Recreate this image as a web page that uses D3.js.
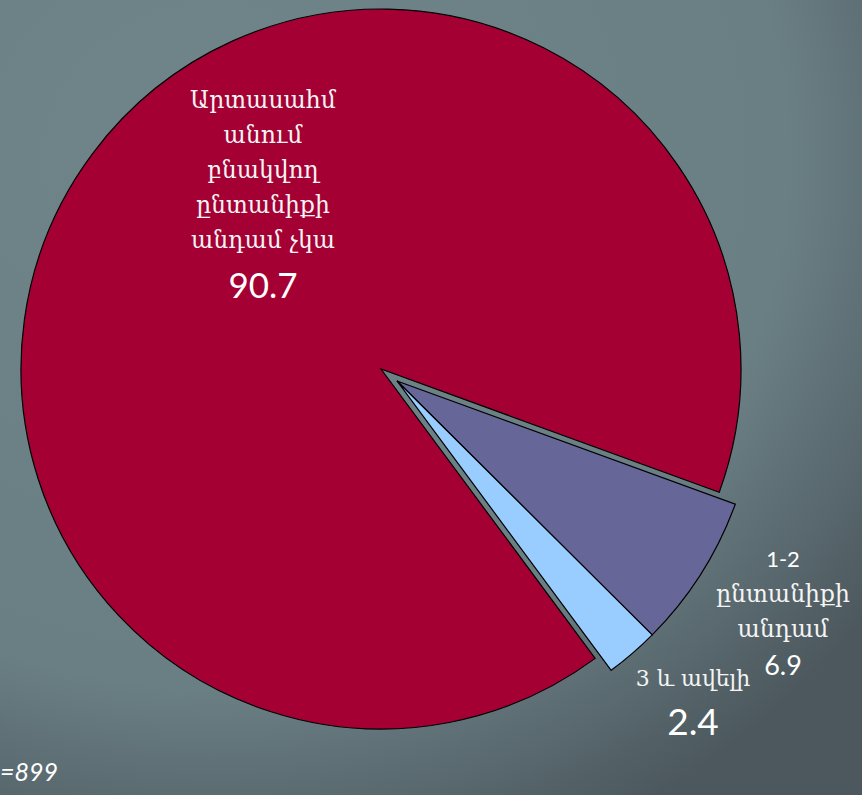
<!DOCTYPE html>
<html>
<head>
<meta charset="utf-8">
<script src="https://cdn.jsdelivr.net/npm/d3@7"></script>
<style>
  html, body { margin: 0; padding: 0; overflow: hidden; }
  .arm { font-family: "DejaVu Serif", serif; fill: #f4f4f4; }
  .num { font-family: Lato, "Open Sans", sans-serif; fill: #ffffff; }
</style>
</head>
<body>
<svg id="chart"></svg>
<script>
const width = 862;
const height = 795;

// slices, clockwise starting after the exploded pair
const categories = ["none", "one-two", "three-plus"];
const values = [90.7, 6.9, 2.4];
const colors = ["#a50034", "#666699", "#99ccff"];
const exploded = [false, true, true];

// label text
const labelLines = [
  ["Արտասահմ", "անում", "բնակվող", "ընտանիքի", "անդամ չկա"],
  ["1-2", "ընտանիքի", "անդամ"],
  ["3 և ավելի"]
];
const sampleNote = "=899";

const cx = 381, cy = 369, radius = 360;
const explodeBy = 20;

const svg = d3.select('#chart')
  .attr('width', width)
  .attr('height', height);

const defs = svg.append('defs');
const grad = defs.append('radialGradient')
  .attr('id', 'bg')
  .attr('cx', '25%').attr('cy', '20%').attr('r', '95%');
grad.append('stop').attr('offset', '0%').attr('stop-color', '#6f858a');
grad.append('stop').attr('offset', '70%').attr('stop-color', '#6a7f84');
grad.append('stop').attr('offset', '100%').attr('stop-color', '#4c585e');

svg.append('rect')
  .attr('width', width)
  .attr('height', height)
  .attr('fill', 'url(#bg)');

const startDeg = 143.5;
const pie = d3.pie()
  .sort(null)
  .value(d => d)
  .startAngle(startDeg * Math.PI / 180)
  .endAngle(startDeg * Math.PI / 180 + 2 * Math.PI);

const arcs = pie(values);

const arc = d3.arc()
  .innerRadius(0)
  .outerRadius(radius);

// exploded pair moves out along its combined mid angle
const pairStart = arcs[1].startAngle;
const pairEnd = arcs[2].endAngle;
const pairMid = (pairStart + pairEnd) / 2;
const dx = Math.sin(pairMid) * explodeBy;
const dy = -Math.cos(pairMid) * explodeBy;

const g = svg.append('g')
  .attr('transform', `translate(${cx}, ${cy})`);

g.selectAll('path')
  .data(arcs)
  .enter().append('path')
  .attr('class', (d, i) => 'slice ' + categories[i])
  .attr('transform', (d, i) => exploded[i] ? `translate(${dx}, ${dy})` : null)
  .attr('d', arc)
  .attr('fill', (d, i) => colors[i])
  .attr('stroke', '#000')
  .attr('stroke-width', 1.2)
  .attr('stroke-linejoin', 'miter');

// main label
const main = svg.append('g').attr('transform', 'translate(263, 0)');
main.selectAll('text.arm')
  .data(labelLines[0])
  .enter().append('text')
  .attr('class', 'arm')
  .attr('text-anchor', 'middle')
  .attr('x', 0)
  .attr('y', (d, i) => 108 + i * 35)
  .attr('font-size', 23.5)
  .text(d => d);
main.append('text')
  .attr('class', 'num')
  .attr('text-anchor', 'middle')
  .attr('y', 298)
  .attr('font-size', 35)
  .text(d3.format('.1f')(values[0]));

// 1-2 label
const second = svg.append('g').attr('transform', 'translate(783, 0)');
second.selectAll('text.arm')
  .data(labelLines[1])
  .enter().append('text')
  .attr('class', (d, i) => i === 0 ? 'num' : 'arm')
  .attr('text-anchor', 'middle')
  .attr('y', (d, i) => 567 + i * 35)
  .attr('font-size', (d, i) => i === 0 ? 22 : 23.5)
  .text(d => d);
second.append('text')
  .attr('class', 'num')
  .attr('text-anchor', 'middle')
  .attr('y', 675)
  .attr('font-size', 27)
  .text(d3.format('.1f')(values[1]));

// 3+ label
const third = svg.append('g').attr('transform', 'translate(693, 0)');
third.append('text')
  .attr('class', 'arm')
  .attr('text-anchor', 'middle')
  .attr('y', 686)
  .attr('font-size', 22)
  .text(labelLines[2][0]);
third.append('text')
  .attr('class', 'num')
  .attr('text-anchor', 'middle')
  .attr('y', 735)
  .attr('font-size', 37)
  .text(d3.format('.1f')(values[2]));

svg.append('text')
  .attr('class', 'num')
  .attr('x', 0)
  .attr('y', 781)
  .attr('font-size', 25)
  .attr('font-style', 'italic')
  .attr('fill', '#f2f2f2')
  .text(sampleNote);
</script>
</body>
</html>
